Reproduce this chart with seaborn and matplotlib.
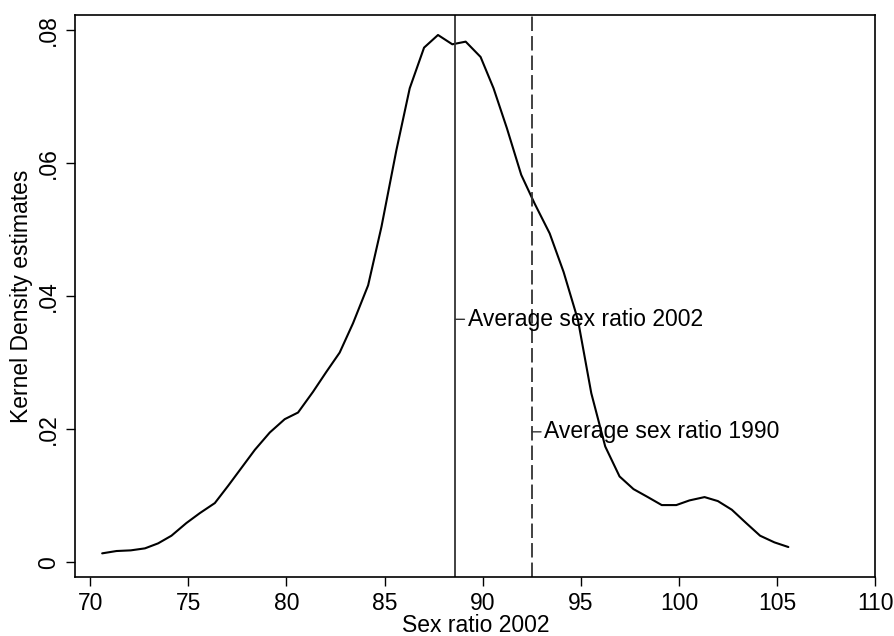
import numpy as np
import pandas as pd
import seaborn as sns
import matplotlib
matplotlib.use("Agg")
import matplotlib.pyplot as plt
from matplotlib.ticker import FuncFormatter

# kernel density estimate
sex_ratio = [70.61, 71.34, 72.07, 72.79, 73.46, 74.14, 74.90, 75.59, 76.35, 77.03,
             77.71, 78.39, 79.15, 79.91, 80.59, 81.35, 82.03, 82.71, 83.39, 84.16,
             84.84, 85.60, 86.28, 87.01, 87.72, 88.45, 89.13, 89.89, 90.55, 91.23,
             91.96, 92.64, 93.41, 94.12, 94.85, 95.53, 96.24, 96.97, 97.68, 98.41,
             99.12, 99.86, 100.53, 101.30, 101.98, 102.69, 103.42, 104.13, 104.86, 105.57]
density = [0.00135, 0.0017, 0.0018, 0.0021, 0.00285, 0.0040, 0.0059, 0.0074, 0.0089, 0.0115,
           0.0142, 0.0169, 0.0195, 0.0215, 0.0225, 0.0256, 0.0286, 0.0315, 0.0359, 0.0416,
           0.0504, 0.0619, 0.0712, 0.0773, 0.0792, 0.0778, 0.0782, 0.0759, 0.0712, 0.0652,
           0.0582, 0.0539, 0.0494, 0.0436, 0.0364, 0.0254, 0.0174, 0.0129, 0.0110, 0.0098,
           0.0086, 0.0086, 0.0093, 0.0098, 0.0092, 0.0079, 0.0059, 0.0040, 0.0030, 0.0023]

avg_2002 = 88.6
avg_1990 = 92.5
x_ticks = [70, 75, 80, 85, 90, 95, 100, 105, 110]
y_ticks = [0, 0.02, 0.04, 0.06, 0.08]

sns.set_style("ticks")
plt.rcParams["font.family"] = ["Liberation Sans", "DejaVu Sans"]
plt.rcParams["text.color"] = "black"
plt.rcParams["axes.labelcolor"] = "black"
plt.rcParams["xtick.color"] = "black"
plt.rcParams["ytick.color"] = "black"

df = pd.DataFrame({"x": sex_ratio, "y": density})

fig = plt.figure(figsize=(8.95, 6.36), dpi=100)
ax = fig.add_axes([0.0841, 0.0932, 0.8939, 0.8832])

sns.lineplot(data=df, x="x", y="y", color="black", linewidth=1.5, ax=ax)
ax.axvline(avg_2002, color="#333333", linewidth=1.3)
ax.axvline(avg_1990, color="#333333", linewidth=1.3, linestyle=(0, (8, 2.8)))

for xv, yv, txt in [(avg_2002, 0.0365, "Average sex ratio 2002"),
                    (avg_1990, 0.0196, "Average sex ratio 1990")]:
    ax.annotate(txt, xy=(xv, yv), xytext=(9, 0), textcoords="offset points",
                ha="left", va="center", fontsize=16.5, color="black",
                arrowprops=dict(arrowstyle="-", color="#333333", lw=1.0,
                                shrinkA=0, shrinkB=0))

ax.set_xlim(69.24, 110.0)
ax.set_ylim(-0.00216, 0.0822)
ax.set_xticks(x_ticks)
ax.set_yticks(y_ticks)
ax.yaxis.set_major_formatter(FuncFormatter(lambda v, p: "0" if v == 0 else f"{v:.2f}".lstrip("0")))
ax.tick_params(axis="both", direction="out", length=6.2, width=1.0, labelsize=16.5,
               color="black", labelcolor="black", pad=5)
for lab in ax.get_yticklabels():
    lab.set_rotation(90)
    lab.set_va("center")

for s in ax.spines.values():
    s.set_visible(True)
    s.set_color("black")
    s.set_linewidth(1.2)

ax.set_xlabel("Sex ratio 2002", fontsize=16.5, labelpad=-1)
ax.set_ylabel("Kernel Density estimates", fontsize=16.5, labelpad=3)

fig.savefig("out.png", dpi=100)
